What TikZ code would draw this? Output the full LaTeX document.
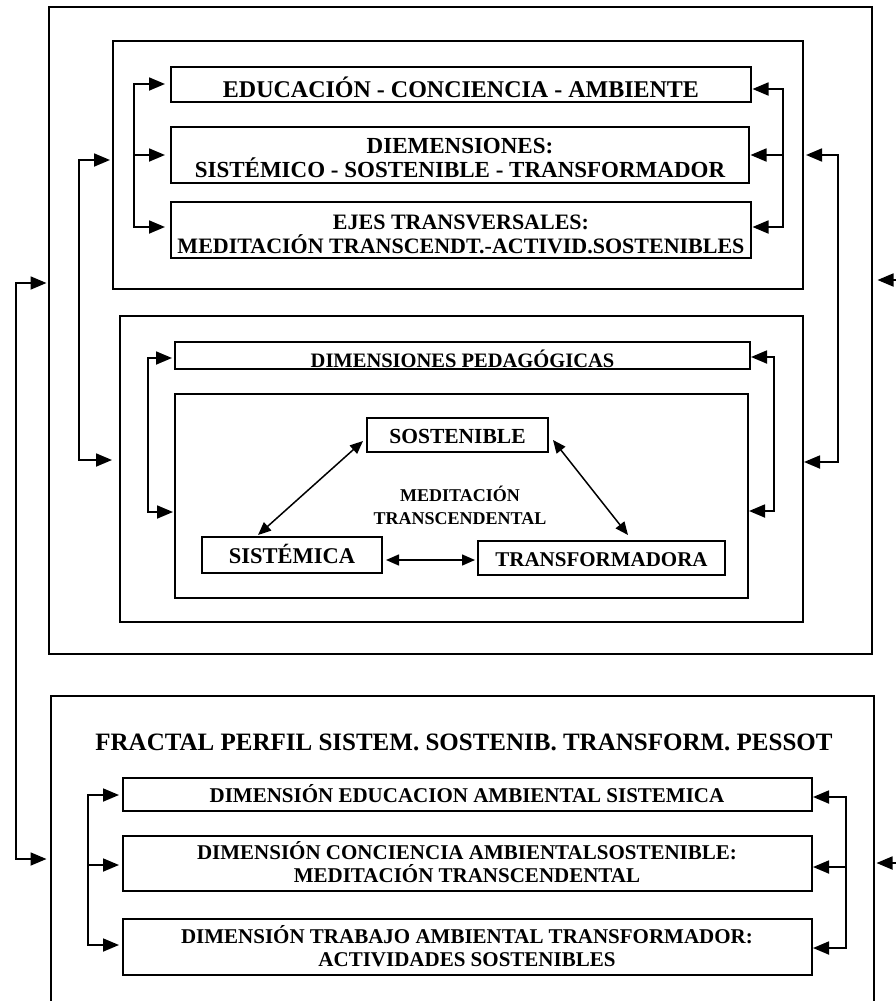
\documentclass[tikz,border=0pt]{standalone}
\usepackage{fontspec}
\setmainfont{Liberation Serif}
\usetikzlibrary{arrows.meta}
\newcommand\fsz[1]{\bfseries\fontsize{#1}{#1}\selectfont}
\begin{document}
\begin{tikzpicture}[x=1pt,y=-1pt,
  box/.style={draw, line width=1.8pt, inner sep=0pt, outer sep=0pt},
  wire/.style={line width=1.8pt},
  arr/.style={wire, -{Triangle[length=16pt,width=13pt]}},
  biarr/.style={wire, {Triangle[length=16pt,width=13pt]}-{Triangle[length=16pt,width=13pt]}},
  darr/.style={line width=1.5pt, {Triangle[length=13pt,width=11pt]}-{Triangle[length=13pt,width=11pt]}},
  lbl/.style={anchor=base, inner sep=0pt}]
\clip (0,0) rectangle (896,1001);
% boxes
\node[box, minimum width=823pt, minimum height=647pt] (A) at (460.5,330.5) {};
\node[box, minimum width=690pt, minimum height=248pt] (B1) at (458,165) {};
\node[box, minimum width=580pt, minimum height=35pt] (E1) at (461,84.5) {};
\node[box, minimum width=578pt, minimum height=56pt] (E2) at (460,155) {};
\node[box, minimum width=580pt, minimum height=56pt] (E3) at (461,230) {};
\node[box, minimum width=683pt, minimum height=306pt] (B2) at (461.5,469) {};
\node[box, minimum width=575pt, minimum height=27pt] (DP) at (462.5,355.5) {};
\node[box, minimum width=573pt, minimum height=204pt] (C) at (461.5,496) {};
\node[box, minimum width=181pt, minimum height=34pt] (SOS) at (457.5,435) {};
\node[box, minimum width=180pt, minimum height=36pt] (SIS) at (292,555) {};
\node[box, minimum width=247pt, minimum height=34pt] (TRA) at (601.5,558) {};
\node[box, minimum width=823pt, minimum height=334pt] (D) at (462.5,863) {};
\node[box, minimum width=689pt, minimum height=33pt] (F1) at (467.5,794.5) {};
\node[box, minimum width=689pt, minimum height=55pt] (F2) at (467.5,863.5) {};
\node[box, minimum width=689pt, minimum height=56pt] (F3) at (467.5,947) {};
% texts
\node[lbl, font={\fsz{24}}] (E1t) at (461,97) {EDUCACIÓN - CONCIENCIA - AMBIENTE};
\node[lbl, font={\fsz{23}}] (E2a) at (460,153) {DIEMENSIONES:};
\node[lbl, font={\fsz{23}}] (E2b) at (460,177) {SISTÉMICO - SOSTENIBLE - TRANSFORMADOR};
\node[lbl, font={\fsz{22}}] (E3a) at (461,229) {EJES TRANSVERSALES:};
\node[lbl, font={\fsz{22}}] (E3b) at (461,253) {MEDITACIÓN TRANSCENDT.-ACTIVID.SOSTENIBLES};
\node[lbl, font={\fsz{20.5}}] (DPt) at (462.5,367) {DIMENSIONES PEDAGÓGICAS};
\node[lbl, font={\fsz{21.5}}] (SOSt) at (457.5,443) {SOSTENIBLE};
\node[lbl, font={\fsz{18}}] (M1) at (460,501) {MEDITACIÓN};
\node[lbl, font={\fsz{18}}] (M2) at (460,524) {TRANSCENDENTAL};
\node[lbl, font={\fsz{22.5}}] (SISt) at (292,563) {SISTÉMICA};
\node[lbl, font={\fsz{21}}] (TRAt) at (601.5,566) {TRANSFORMADORA};
\node[lbl, font={\fsz{25}}] (Dt) at (464,750) {FRACTAL PERFIL SISTEM. SOSTENIB. TRANSFORM. PESSOT};
\node[lbl, font={\fsz{21}}] (F1t) at (467,802) {DIMENSIÓN EDUCACION AMBIENTAL SISTEMICA};
\node[lbl, font={\fsz{21}}] (F2a) at (467,859) {DIMENSIÓN CONCIENCIA AMBIENTALSOSTENIBLE:};
\node[lbl, font={\fsz{21}}] (F2b) at (467,882) {MEDITACIÓN TRANSCENDENTAL};
\node[lbl, font={\fsz{21}}] (F3a) at (467,943) {DIMENSIÓN TRABAJO AMBIENTAL TRANSFORMADOR:};
\node[lbl, font={\fsz{21}}] (F3b) at (467,966) {ACTIVIDADES SOSTENIBLES};
% outer connectors
\coordinate (oL1) at (16,283); \coordinate (oL2) at (16,859);
\draw[biarr, shorten <=2.5pt, shorten >=4.5pt] (A.west |- oL1) -- (oL1) -- (oL2) -- (D.west |- oL2);
\coordinate (oR1) at (905,280); \coordinate (oR2) at (905,863);
\draw[biarr, shorten <=5.5pt, shorten >=2.5pt] (A.east |- oR1) -- (oR1) -- (oR2) -- (D.east |- oR2);
% B connectors
\coordinate (bL1) at (79,160); \coordinate (bL2) at (79,460);
\draw[biarr, shorten <=3pt, shorten >=8pt] (B1.west |- bL1) -- (bL1) -- (bL2) -- (B2.west |- bL2);
\coordinate (bR1) at (838,155); \coordinate (bR2) at (838,462);
\draw[biarr, shorten <=3pt, shorten >=1pt] (B1.east |- bR1) -- (bR1) -- (bR2) -- (B2.east |- bR2);
% B1 brackets
\coordinate (l1a) at (134,84); \coordinate (l1b) at (134,155); \coordinate (l1c) at (134,227);
\draw[biarr, shorten <=6pt, shorten >=6pt] (E1.west |- l1a) -- (l1a) -- (l1c) -- (E3.west |- l1c);
\draw[arr, shorten >=6pt] (l1b) -- (E2.west |- l1b);
\coordinate (r1a) at (783,89); \coordinate (r1b) at (783,155); \coordinate (r1c) at (783,227);
\draw[biarr, shorten <=1.5pt, shorten >=1.5pt] (E1.east |- r1a) -- (r1a) -- (r1c) -- (E3.east |- r1c);
\draw[arr, shorten >=1.5pt] (r1b) -- (E2.east |- r1b);
% B2 brackets
\coordinate (l2a) at (148,358); \coordinate (l2b) at (148,512);
\draw[biarr, shorten <=3pt, shorten >=2pt] (DP.west |- l2a) -- (l2a) -- (l2b) -- (C.west |- l2b);
\coordinate (r2a) at (774,357); \coordinate (r2b) at (774,511);
\draw[biarr, shorten <=1pt, shorten >=1pt] (DP.east |- r2a) -- (r2a) -- (r2b) -- (C.east |- r2b);
% D brackets
\coordinate (l3a) at (88,795); \coordinate (l3b) at (88,865); \coordinate (l3c) at (88,945);
\draw[biarr, shorten <=4pt, shorten >=4pt] (F1.west |- l3a) -- (l3a) -- (l3c) -- (F3.west |- l3c);
\draw[arr, shorten >=4pt] (l3b) -- (F2.west |- l3b);
\coordinate (r3a) at (846,797); \coordinate (r3b) at (846,867); \coordinate (r3c) at (846,948);
\draw[biarr, shorten <=1pt, shorten >=1pt] (F1.east |- r3a) -- (r3a) -- (r3c) -- (F3.east |- r3c);
\draw[arr, shorten >=1pt] (r3b) -- (F2.east |- r3b);
% triangle
\draw[darr] ([shift={(-4pt,-6pt)}]SOS.west) -- ([shift={(-34pt,2pt)}]SIS.north);
\draw[darr] ([shift={(5pt,-5pt)}]SOS.east) -- ([shift={(26.5pt,6pt)}]TRA.north);
\draw[darr] ([shift={(4pt,-5pt)}]SIS.east) -- ([shift={(-3pt,-2pt)}]TRA.west);
\end{tikzpicture}
\end{document}
